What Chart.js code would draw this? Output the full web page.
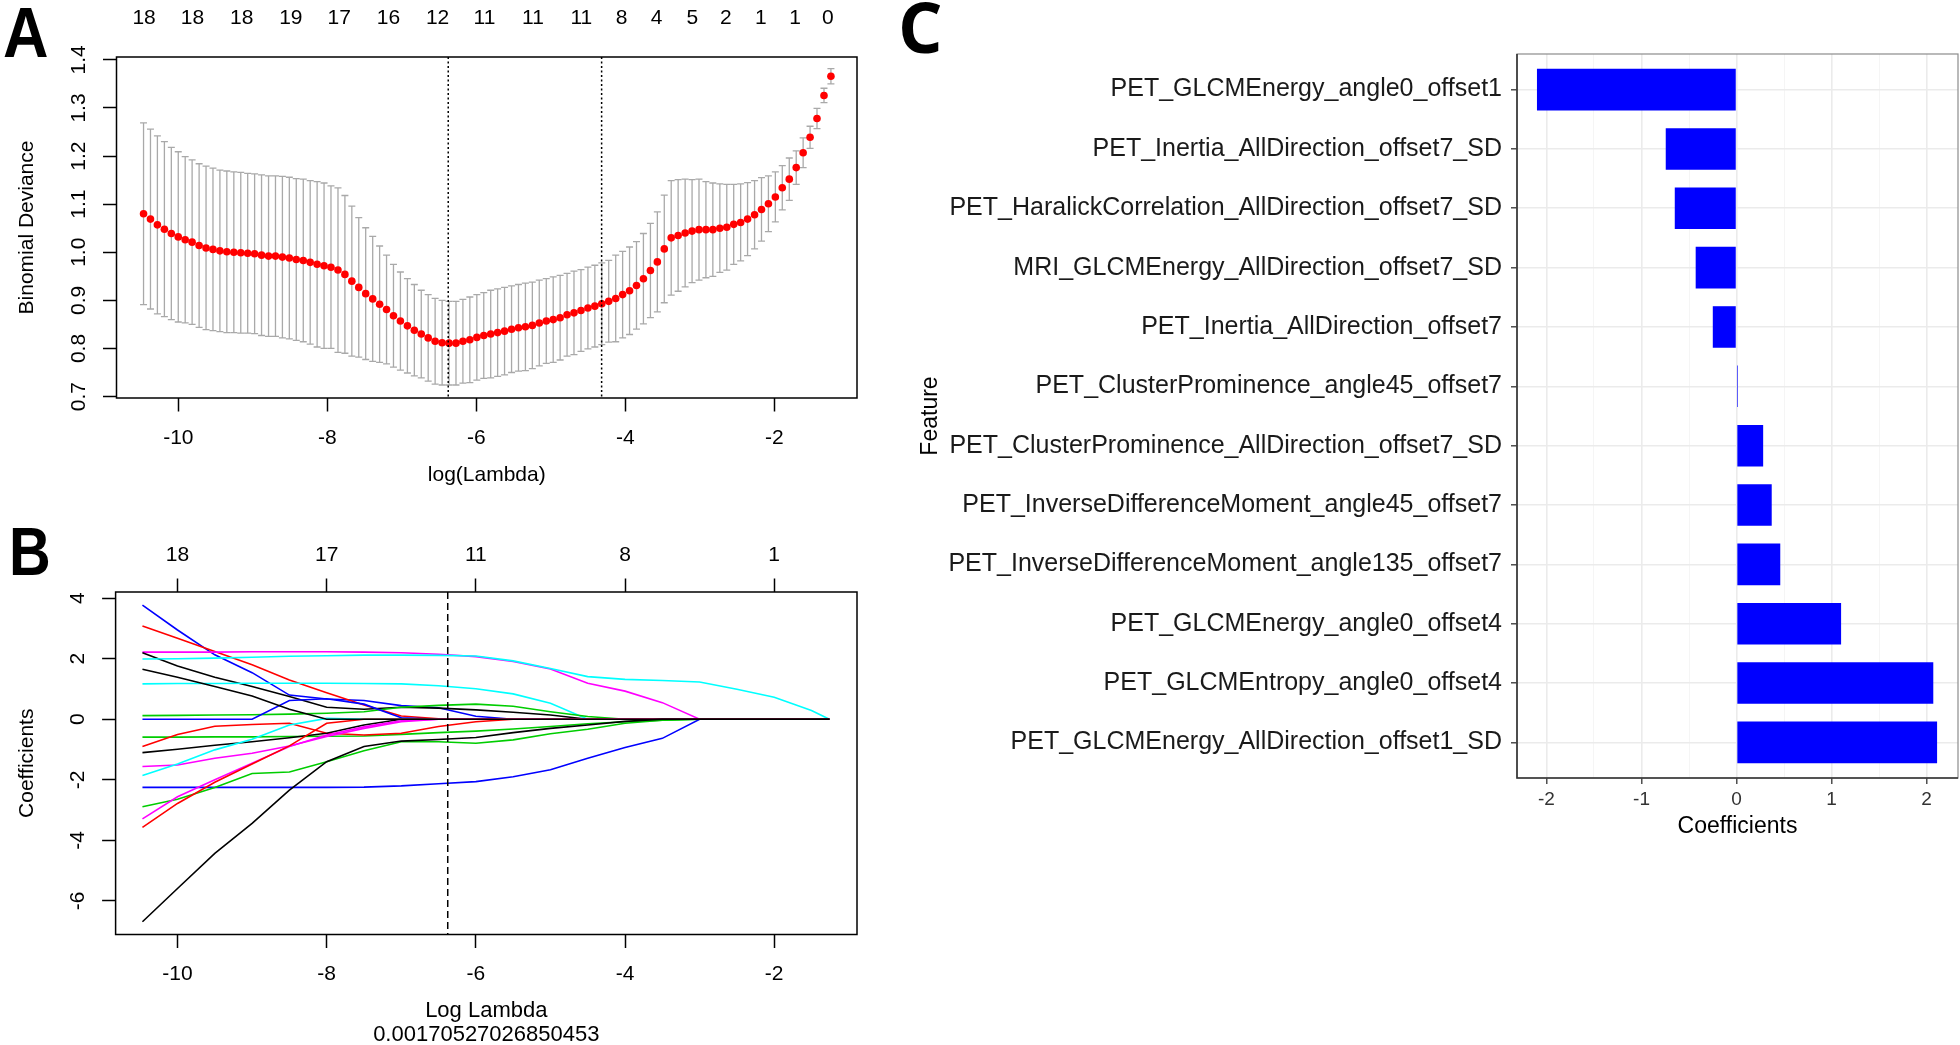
<!DOCTYPE html>
<html>
<head>
<meta charset="utf-8">
<title>LASSO feature selection</title>
<script src="https://cdn.jsdelivr.net/npm/chart.js"></script>
<style>
  html, body { margin: 0; padding: 0; background: #fff; }
  body { width: 1960px; height: 1045px; position: relative; overflow: hidden; }
  canvas { position: absolute; }
  .tag { position: absolute; line-height: 1; font-weight: bold; color: #000; transform-origin: left top; }
</style>
</head>
<body>
<div class="tag" style="left:3px; top:-2px; font-size:70px; font-family:'Liberation Sans',Arial,sans-serif; transform:scaleX(0.9);">A</div>
<div class="tag" style="left:9px; top:517px; font-size:68px; font-family:'Liberation Sans',Arial,sans-serif; transform:scaleX(0.85);">B</div>
<div class="tag" style="left:898px; top:-9px; font-size:70px; font-family:'Open Sans',sans-serif;">C</div>

<canvas id="cvChart" width="900" height="500" style="left:0; top:0;"></canvas>
<canvas id="pathChart" width="900" height="548" style="left:0; top:500px;"></canvas>
<canvas id="coefChart" width="1060" height="860" style="left:900px; top:0;"></canvas>

<script>
// ---- Panel A : cross-validation curve ----
const logLambda = [
  -10.467, -10.374, -10.281, -10.187, -10.094, -10.001, -9.908, -9.815, -9.721, -9.628,
  -9.535, -9.442, -9.349, -9.255, -9.162, -9.069, -8.976, -8.883, -8.789, -8.696,
  -8.603, -8.510, -8.417, -8.323, -8.230, -8.137, -8.044, -7.951, -7.857, -7.764,
  -7.671, -7.578, -7.485, -7.391, -7.298, -7.205, -7.112, -7.019, -6.925, -6.832,
  -6.739, -6.646, -6.553, -6.459, -6.366, -6.273, -6.180, -6.087, -5.993, -5.900,
  -5.807, -5.714, -5.621, -5.527, -5.434, -5.341, -5.248, -5.155, -5.061, -4.968,
  -4.875, -4.782, -4.689, -4.595, -4.502, -4.409, -4.316, -4.223, -4.129, -4.036,
  -3.943, -3.850, -3.757, -3.663, -3.570, -3.477, -3.384, -3.291, -3.197, -3.104,
  -3.011, -2.918, -2.825, -2.731, -2.638, -2.545, -2.452, -2.359, -2.265, -2.172,
  -2.079, -1.986, -1.893, -1.799, -1.706, -1.613, -1.520, -1.427, -1.333, -1.240
];
const cvMean = [
  1.080, 1.069, 1.057, 1.048, 1.039, 1.032, 1.026, 1.021, 1.014, 1.009,
  1.006, 1.003, 1.001, 1.000, 0.999, 0.998, 0.997, 0.994, 0.992, 0.992,
  0.990, 0.988, 0.985, 0.983, 0.979, 0.975, 0.972, 0.969, 0.963, 0.954,
  0.940, 0.927, 0.914, 0.903, 0.892, 0.881, 0.868, 0.857, 0.847, 0.838,
  0.830, 0.822, 0.815, 0.812, 0.811, 0.811, 0.815, 0.818, 0.823, 0.827,
  0.830, 0.833, 0.836, 0.840, 0.843, 0.845, 0.848, 0.853, 0.857, 0.860,
  0.864, 0.870, 0.874, 0.879, 0.884, 0.888, 0.893, 0.898, 0.904, 0.912,
  0.920, 0.931, 0.945, 0.962, 0.980, 1.007, 1.030, 1.035, 1.040, 1.044,
  1.047, 1.047, 1.047, 1.050, 1.052, 1.058, 1.062, 1.069, 1.078, 1.089,
  1.101, 1.115, 1.134, 1.152, 1.176, 1.207, 1.239, 1.278, 1.326, 1.366
];
const cvSd = [
  0.189, 0.187, 0.185, 0.182, 0.179, 0.177, 0.173, 0.171, 0.170, 0.170,
  0.169, 0.168, 0.168, 0.167, 0.167, 0.166, 0.166, 0.167, 0.167, 0.167,
  0.168, 0.168, 0.168, 0.169, 0.170, 0.172, 0.172, 0.169, 0.171, 0.164,
  0.156, 0.145, 0.137, 0.130, 0.121, 0.113, 0.107, 0.102, 0.098, 0.095,
  0.091, 0.090, 0.089, 0.088, 0.087, 0.087, 0.087, 0.089, 0.089, 0.089,
  0.091, 0.091, 0.091, 0.090, 0.090, 0.091, 0.090, 0.089, 0.088, 0.089,
  0.088, 0.086, 0.087, 0.085, 0.085, 0.085, 0.085, 0.085, 0.090, 0.090,
  0.091, 0.091, 0.094, 0.098, 0.104, 0.112, 0.119, 0.116, 0.112, 0.107,
  0.105, 0.100, 0.097, 0.092, 0.089, 0.083, 0.080, 0.076, 0.071, 0.066,
  0.058, 0.052, 0.046, 0.044, 0.035, 0.031, 0.023, 0.021, 0.015, 0.016
];
const nzLabelsA = ['18', '18', '18', '19', '17', '16', '12', '11', '11', '11', '8', '4', '5', '2', '1', '1', '0'];
const nzPosA = [-10.46, -9.81, -9.15, -8.49, -7.84, -7.18, -6.52, -5.89, -5.24, -4.59, -4.05, -3.58, -3.10, -2.65, -2.18, -1.72, -1.28];
const cutLambda = [-6.377, -4.318];
const yTicksA = [0.7, 0.8, 0.9, 1.0, 1.1, 1.2, 1.3, 1.4];
const xTicksAB = [-10, -8, -6, -4, -2];

// ---- Panel B : coefficient paths (last one in the list is drawn on top) ----
const pathLambda = [-10.47, -10, -9.5, -9, -8.5, -8, -7.5, -7, -6.5, -6, -5.5, -5, -4.5, -4, -3.5, -3, -2.5, -2, -1.5, -1.26];
const pathValues = [
  [3.77, 2.95, 2.13, 1.54, 0.80, 0.67, 0.62, 0.45, 0.38, 0.10, 0, 0, 0, 0, 0, 0, 0, 0, 0, 0],
  [3.08, 2.68, 2.24, 1.80, 1.30, 0.88, 0.47, 0.11, 0.02, 0, 0, 0, 0, 0, 0, 0, 0, 0, 0, 0],
  [2.22, 2.22, 2.22, 2.23, 2.23, 2.23, 2.22, 2.20, 2.15, 2.07, 1.91, 1.66, 1.19, 0.93, 0.55, 0, 0, 0, 0, 0],
  [2.20, 1.76, 1.39, 1.08, 0.75, 0.40, 0.33, 0.40, 0.37, 0.31, 0.23, 0.14, 0, 0, 0, 0, 0, 0, 0, 0],
  [1.99, 2.00, 2.02, 2.05, 2.08, 2.10, 2.12, 2.12, 2.11, 2.09, 1.93, 1.68, 1.41, 1.32, 1.28, 1.23, 0.99, 0.73, 0.29, 0],
  [1.17, 1.18, 1.18, 1.19, 1.19, 1.19, 1.18, 1.17, 1.11, 1.01, 0.84, 0.53, 0, 0, 0, 0, 0, 0, 0, 0],
  [0.12, 0.13, 0.14, 0.15, 0.17, 0.20, 0.25, 0.40, 0.46, 0.50, 0.43, 0.25, 0.09, 0, 0, 0, 0, 0, 0, 0],
  [0, 0, 0, 0, 0.62, 0.68, 0.50, 0.05, 0, 0, 0, 0, 0, 0, 0, 0, 0, 0, 0, 0],
  [-0.59, -0.59, -0.58, -0.58, -0.57, -0.56, -0.55, -0.50, -0.44, -0.39, -0.32, -0.24, -0.15, -0.08, -0.03, 0, 0, 0, 0, 0],
  [-0.90, -0.50, -0.23, -0.17, -0.13, -0.46, -0.52, -0.46, -0.24, -0.08, 0, 0, 0, 0, 0, 0, 0, 0, 0, 0],
  [-1.10, -0.99, -0.86, -0.74, -0.61, -0.46, -0.19, 0, 0, 0, 0, 0, 0, 0, 0, 0, 0, 0, 0, 0],
  [-1.56, -1.51, -1.29, -1.12, -0.88, -0.57, -0.30, -0.08, 0, 0, 0, 0, 0, 0, 0, 0, 0, 0, 0, 0],
  [-1.86, -1.48, -1.01, -0.66, -0.19, 0.03, 0, 0, 0, 0, 0, 0, 0, 0, 0, 0, 0, 0, 0, 0],
  [-2.25, -2.25, -2.25, -2.25, -2.25, -2.25, -2.24, -2.20, -2.13, -2.06, -1.90, -1.67, -1.29, -0.93, -0.63, 0, 0, 0, 0, 0],
  [-2.89, -2.64, -2.25, -1.79, -1.74, -1.40, -1.04, -0.74, -0.74, -0.79, -0.68, -0.48, -0.33, -0.13, -0.03, 0, 0, 0, 0, 0],
  [-3.29, -2.56, -2.00, -1.45, -0.90, -0.52, -0.25, -0.05, 0, 0, 0, 0, 0, 0, 0, 0, 0, 0, 0, 0],
  [-3.57, -2.78, -2.08, -1.48, -0.88, -0.13, 0, 0, 0, 0, 0, 0, 0, 0, 0, 0, 0, 0, 0, 0],
  [-6.69, -5.59, -4.43, -3.44, -2.34, -1.40, -0.90, -0.72, -0.67, -0.60, -0.44, -0.30, -0.19, -0.07, 0, 0, 0, 0, 0, 0],
  [1.65, 1.39, 1.08, 0.77, 0.33, 0, 0, 0, 0, 0, 0, 0, 0, 0, 0, 0, 0, 0, 0, 0]
];
const pathColors = ['#0000ff', '#ff0000', '#ff00ff', '#000000', '#00ffff', '#00ffff', '#00cd00', '#0000ff', '#00cd00',
                    '#ff0000', '#000000', '#ff00ff', '#00ffff', '#0000ff', '#00cd00', '#ff00ff', '#ff0000', '#000000', '#000000'];
const nzLabelsB = ['18', '17', '11', '8', '1'];
const yTicksB = [-6, -4, -2, 0, 2, 4];
const chosenLambda = [-6.377];
const lambdaText = '0.00170527026850453';

// ---- Panel C : selected features ----
const features = [
  'PET_GLCMEnergy_angle0_offset1',
  'PET_Inertia_AllDirection_offset7_SD',
  'PET_HaralickCorrelation_AllDirection_offset7_SD',
  'MRI_GLCMEnergy_AllDirection_offset7_SD',
  'PET_Inertia_AllDirection_offset7',
  'PET_ClusterProminence_angle45_offset7',
  'PET_ClusterProminence_AllDirection_offset7_SD',
  'PET_InverseDifferenceMoment_angle45_offset7',
  'PET_InverseDifferenceMoment_angle135_offset7',
  'PET_GLCMEnergy_angle0_offset4',
  'PET_GLCMEntropy_angle0_offset4',
  'PET_GLCMEnergy_AllDirection_offset1_SD'
];
const coefs = [-2.10, -0.745, -0.65, -0.43, -0.25, 0.015, 0.28, 0.37, 0.46, 1.10, 2.07, 2.11];
const xTicksC = [-2, -1.5, -1, -0.5, 0, 0.5, 1, 1.5, 2];

Chart.defaults.font.family = "'Liberation Sans', Arial, sans-serif";
Chart.defaults.color = '#000';

// put the ticks exactly where we want them
function fixedTicks(values) {
  return scale => { scale.ticks = values.map(v => ({ value: v })); };
}

// black box round the plot, like base R
const rBox = {
  id: 'rBox',
  afterDraw(chart) {
    const { ctx, chartArea: a } = chart;
    ctx.save();
    ctx.strokeStyle = '#000';
    ctx.lineWidth = 1.5;
    ctx.strokeRect(a.left, a.top, a.right - a.left, a.bottom - a.top);
    ctx.restore();
  }
};

function vLines(chart, values, dash) {
  const { ctx, chartArea: a, scales: { x } } = chart;
  ctx.save();
  ctx.strokeStyle = '#000';
  ctx.lineWidth = 1.5;
  ctx.setLineDash(dash);
  values.forEach(v => {
    const px = x.getPixelForValue(v);
    ctx.beginPath();
    ctx.moveTo(px, a.top);
    ctx.lineTo(px, a.bottom);
    ctx.stroke();
  });
  ctx.restore();
}

// error bars for the CV curve
const cvBars = {
  id: 'cvBars',
  beforeDatasetsDraw(chart) {
    const { ctx, scales: { x, y } } = chart;
    ctx.save();
    ctx.strokeStyle = '#a9a9a9';
    ctx.lineWidth = 1.3;
    logLambda.forEach((l, i) => {
      const px = x.getPixelForValue(l);
      const top = y.getPixelForValue(cvMean[i] + cvSd[i]);
      const bot = y.getPixelForValue(cvMean[i] - cvSd[i]);
      ctx.beginPath();
      ctx.moveTo(px, top); ctx.lineTo(px, bot);
      ctx.moveTo(px - 3.5, top); ctx.lineTo(px + 3.5, top);
      ctx.moveTo(px - 3.5, bot); ctx.lineTo(px + 3.5, bot);
      ctx.stroke();
    });
    ctx.restore();
  },
  afterDatasetsDraw(chart) {
    vLines(chart, cutLambda, [2, 2.5]);
  }
};

const tickGrid = { drawOnChartArea: false, tickLength: 13.5, tickColor: '#000', tickWidth: 1.5 };

// Panel A
new Chart(document.getElementById('cvChart'), {
  type: 'scatter',
  data: {
    datasets: [{
      data: logLambda.map((x, i) => ({ x, y: cvMean[i] })),
      pointRadius: 3.8,
      pointHoverRadius: 3.8,
      backgroundColor: '#ff0000',
      borderWidth: 0
    }]
  },
  options: {
    responsive: false,
    animation: false,
    events: [],
    layout: { padding: { right: 43 } },
    plugins: { legend: { display: false }, tooltip: { enabled: false } },
    scales: {
      x: {
        type: 'linear', position: 'bottom', min: -10.83, max: -0.89,
        afterBuildTicks: fixedTicks(xTicksAB),
        afterFit: s => { s.height = 102; },
        grid: tickGrid,
        border: { display: false },
        ticks: { padding: 14, font: { size: 21 }, maxRotation: 0, autoSkip: false },
        title: { display: true, text: 'log(Lambda)', font: { size: 21 }, padding: { top: 0, bottom: 12.4 } }
      },
      xTop: {
        type: 'linear', position: 'top', min: -10.83, max: -0.89,
        afterBuildTicks: fixedTicks(nzPosA),
        afterFit: s => { s.height = 57; },
        grid: { display: false, drawTicks: false },
        border: { display: false },
        ticks: { padding: 26.4, font: { size: 21 }, maxRotation: 0, autoSkip: false,
                 callback: (v, i) => nzLabelsA[i] }
      },
      y: {
        type: 'linear', min: 0.697, max: 1.406,
        afterBuildTicks: fixedTicks(yTicksA),
        afterFit: s => { s.width = 116.5; },
        grid: tickGrid,
        border: { display: false },
        ticks: { minRotation: 90, maxRotation: 90, crossAlign: 'center', padding: 9,
                 font: { size: 21 }, autoSkip: false, callback: v => v.toFixed(1) },
        title: { display: true, text: 'Binomial Deviance', font: { size: 21 }, padding: { top: 14.4, bottom: 0 } }
      }
    }
  },
  plugins: [cvBars, rBox]
});

// Panel B
new Chart(document.getElementById('pathChart'), {
  type: 'scatter',
  data: {
    datasets: pathValues.map((vals, k) => ({
      data: pathLambda.map((x, i) => ({ x, y: vals[i] })),
      showLine: true,
      borderColor: pathColors[k],
      borderWidth: 1.6,
      pointRadius: 0,
      tension: 0,
      order: pathValues.length - k
    }))
  },
  options: {
    responsive: false,
    animation: false,
    events: [],
    layout: { padding: { right: 43 } },
    plugins: { legend: { display: false }, tooltip: { enabled: false } },
    scales: {
      x: {
        type: 'linear', position: 'bottom', min: -10.83, max: -0.89,
        afterBuildTicks: fixedTicks(xTicksAB),
        afterFit: s => { s.height = 113.5; },
        grid: tickGrid,
        border: { display: false },
        ticks: { padding: 13.9, font: { size: 21 }, maxRotation: 0, autoSkip: false },
        title: { display: true, text: ['Log Lambda', lambdaText], font: { size: 22, lineHeight: 1.1 },
                 padding: { top: 0, bottom: 0.7 } }
      },
      xTop: {
        type: 'linear', position: 'top', min: -10.83, max: -0.89,
        afterBuildTicks: fixedTicks(xTicksAB),
        afterFit: s => { s.height = 92; },
        grid: tickGrid,
        border: { display: false },
        ticks: { padding: 10.3, font: { size: 21 }, maxRotation: 0, autoSkip: false,
                 callback: (v, i) => nzLabelsB[i] }
      },
      y: {
        type: 'linear', min: -7.11, max: 4.205,
        afterBuildTicks: fixedTicks(yTicksB),
        afterFit: s => { s.width = 115.6; },
        grid: tickGrid,
        border: { display: false },
        ticks: { minRotation: 90, maxRotation: 90, crossAlign: 'center', padding: 14.3,
                 font: { size: 21 }, autoSkip: false },
        title: { display: true, text: 'Coefficients', font: { size: 21 }, padding: { top: 14.4, bottom: 0 } }
      }
    }
  },
  plugins: [{ id: 'chosen', afterDatasetsDraw: c => vLines(c, chosenLambda, [7, 4]) }, rBox]
});

// Panel C
const ggFrame = {
  id: 'ggFrame',
  afterDraw(chart) {
    const { ctx, chartArea: a } = chart;
    ctx.save();
    ctx.strokeStyle = '#8c8c8c';
    ctx.lineWidth = 1.2;
    ctx.strokeRect(a.left, a.top, a.right - a.left, a.bottom - a.top);
    ctx.strokeStyle = '#333';
    ctx.lineWidth = 1.6;
    ctx.beginPath();
    ctx.moveTo(a.left, a.top);
    ctx.lineTo(a.left, a.bottom);
    ctx.lineTo(a.right, a.bottom);
    ctx.stroke();
    ctx.restore();
  }
};

new Chart(document.getElementById('coefChart'), {
  type: 'bar',
  data: {
    datasets: [{
      data: coefs.map((v, i) => ({ x: v, y: i })),
      backgroundColor: '#0000ff',
      borderWidth: 0,
      barPercentage: 1,
      categoryPercentage: 0.7
    }]
  },
  options: {
    indexAxis: 'y',
    responsive: false,
    animation: false,
    events: [],
    layout: { padding: { top: 54, right: 2 } },
    plugins: { legend: { display: false }, tooltip: { enabled: false } },
    scales: {
      x: {
        type: 'linear', min: -2.31, max: 2.33,
        afterBuildTicks: fixedTicks(xTicksC),
        afterFit: s => { s.height = 82; },
        grid: {
          color: c => Number.isInteger(c.tick.value) ? '#ebebeb' : '#f4f4f4',
          lineWidth: c => Number.isInteger(c.tick.value) ? 1.6 : 0.9,
          tickColor: c => Number.isInteger(c.tick.value) ? '#333' : 'rgba(0,0,0,0)',
          tickLength: 6,
          tickWidth: 1.3
        },
        border: { display: false },
        ticks: { padding: 4.6, font: { size: 19 }, color: '#333', maxRotation: 0, autoSkip: false,
                 callback: v => Number.isInteger(v) ? String(v) : '' },
        title: { display: true, text: 'Coefficients', font: { size: 23 }, padding: { top: 0, bottom: 19.2 } }
      },
      y: {
        type: 'linear', reverse: true, min: -0.6, max: 11.6, offset: false,
        afterBuildTicks: fixedTicks(features.map((f, i) => i)),
        afterFit: s => { s.width = 617; },
        grid: { offset: false, color: '#ebebeb', lineWidth: 1.6, tickColor: '#333', tickLength: 6, tickWidth: 1.3 },
        border: { display: false },
        ticks: { padding: 9, font: { size: 25 }, color: '#1a1a1a', autoSkip: false,
                 callback: v => features[v] },
        title: { display: true, text: 'Feature', font: { size: 23 }, padding: { top: 17.2, bottom: 0 } }
      }
    }
  },
  plugins: [ggFrame]
});
</script>
</body>
</html>
